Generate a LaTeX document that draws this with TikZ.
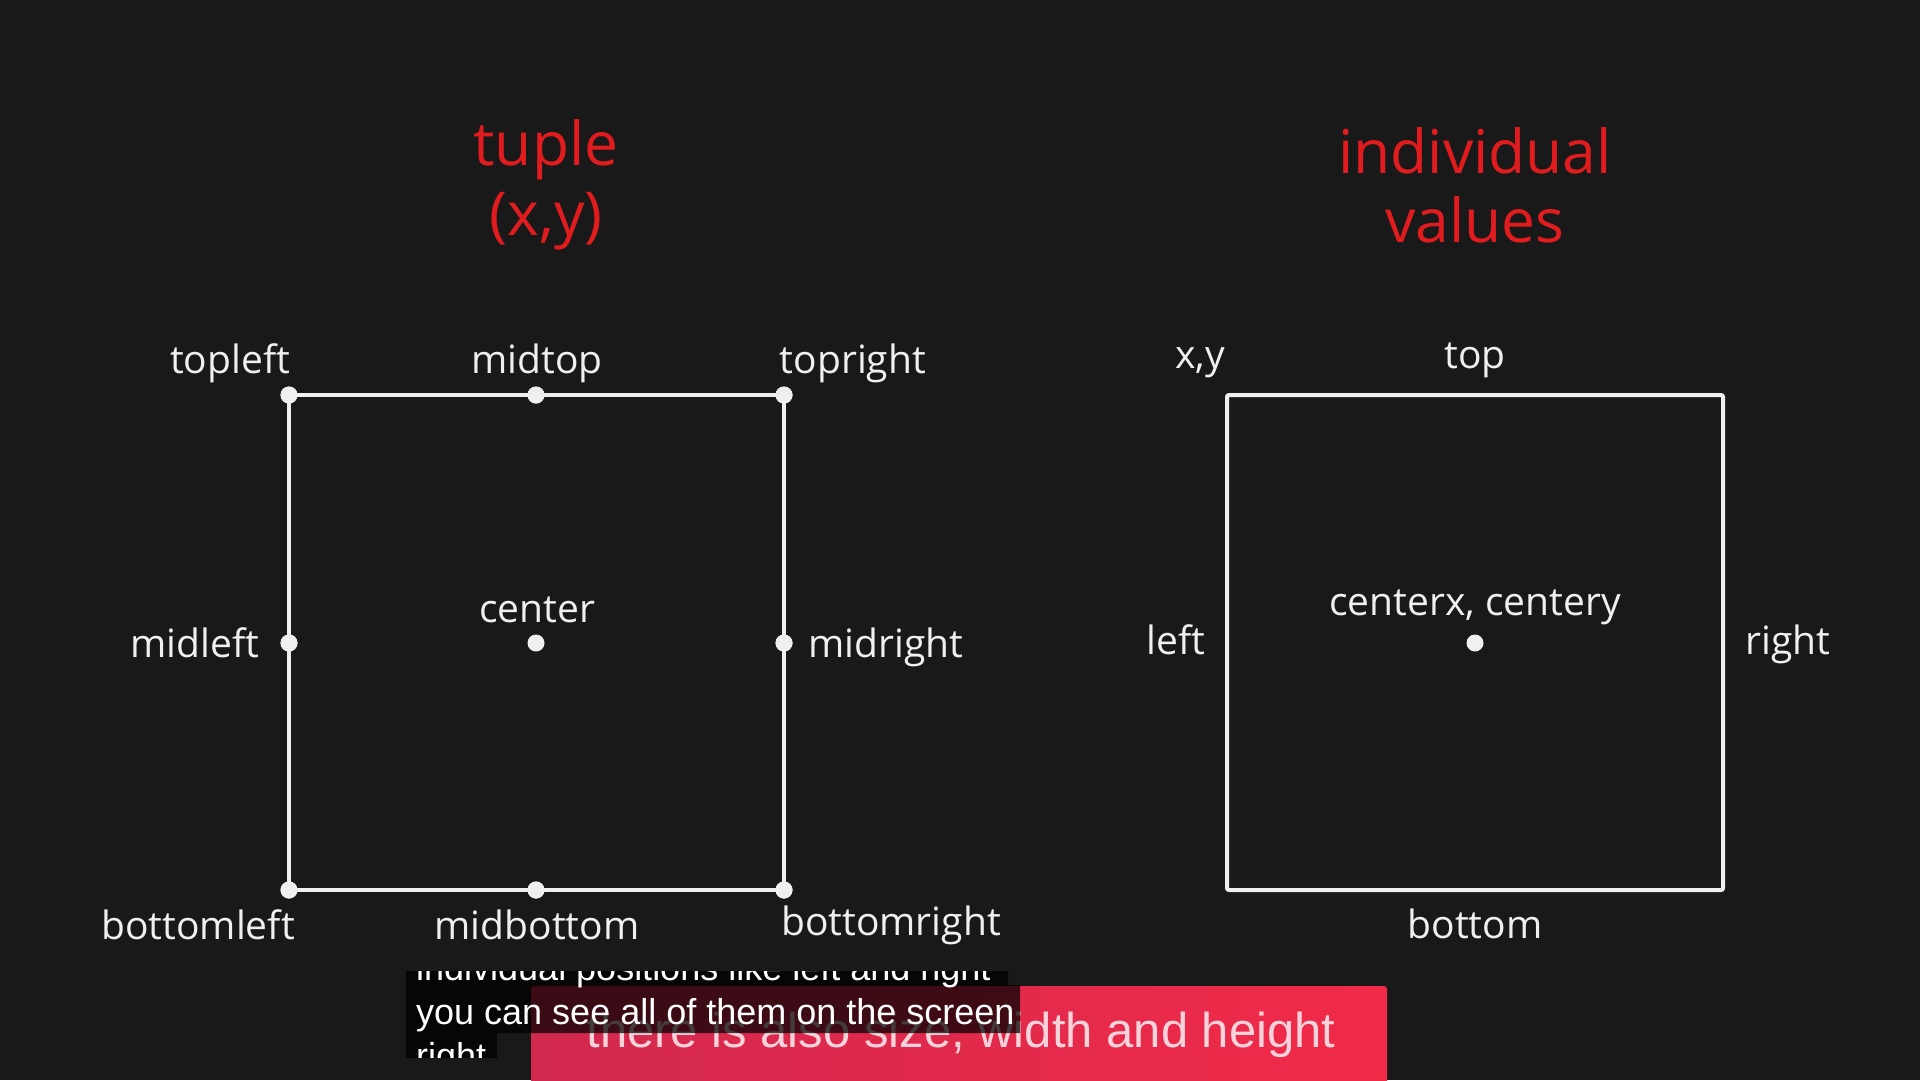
\documentclass[tikz,border=0pt]{standalone}
\usepackage{fontspec}
\setmainfont{Open Sans}
\newfontfamily\subfont{Liberation Sans}
\definecolor{bg}{HTML}{191919}
\definecolor{titlered}{HTML}{E01C1E}
\definecolor{fg}{HTML}{F0F0F0}
\definecolor{redL}{HTML}{D2294F}
\definecolor{redR}{HTML}{F12A48}
\definecolor{pinktext}{HTML}{F6D2DA}
\tikzset{
  boxline/.style={draw=fg, line width=4pt},
  dot/.style={circle, fill=fg, inner sep=0pt, minimum size=17pt},
  lbl/.style={text=fg, anchor=base, inner sep=0pt, font=\fontsize{39}{46}\selectfont},
  ttl/.style={text=titlered, anchor=base, inner sep=0pt, font=\fontsize{60.5}{70}\selectfont},
  subw/.style={text=white, anchor=base west, inner sep=0pt, font=\subfont\fontsize{36}{42}\selectfont},
}
\begin{document}
\begin{tikzpicture}[x=1pt,y=-1pt]
\useasboundingbox (0,0) rectangle (1920,1080);
\fill[bg] (0,0) rectangle (1920,1080);

% titles
\node[ttl] (t1) at (546,165) {tuple};
\node[ttl] (t2) at (546,235) {(x,y)};
\node[ttl] (t3) at (1475,173) {individual};
\node[ttl] (t4) at (1475,242) {values};

% left box
\node[dot] (tl) at (289,395) {};
\node[dot] (mt) at (536,395) {};
\node[dot] (tr) at (784,395) {};
\node[dot] (ml) at (289,643) {};
\node[dot] (cc) at (536,643) {};
\node[dot] (mr) at (784,643) {};
\node[dot] (bl) at (289,890) {};
\node[dot] (mb) at (536,890) {};
\node[dot] (brr) at (784,890) {};
\draw[boxline] (tl.center) -- (tr.center) -- (brr.center) -- (bl.center) -- cycle;
\node[dot] at (tl) {};
\node[dot] at (mt) {};
\node[dot] at (tr) {};
\node[dot] at (ml) {};
\node[dot] at (mr) {};
\node[dot] at (bl) {};
\node[dot] at (mb) {};
\node[dot] at (brr) {};

\node[lbl] (ltl) at (230,373) {topleft};
\node[lbl] (lmt) at (537,373) {midtop};
\node[lbl] (ltr) at (853,373) {topright};
\node[lbl] (lml) at (195,657) {midleft};
\node[lbl] (lcc) at (537,622) {center};
\node[lbl] (lmr) at (886,657) {midright};
\node[lbl] (lbl) at (198,939) {bottomleft};
\node[lbl] (lmb) at (537,939) {midbottom};
\node[lbl] (lbr) at (891,935) {bottomright};

% right box
\coordinate (rtl) at (1227,395);
\coordinate (rbr) at (1723,890);
\draw[boxline, rounded corners=2pt] (rtl) rectangle (rbr);
\node[dot] (rc) at (1475,643) {};
\node[lbl] (rxy) at (1200,368) {x,y};
\node[lbl] (rtop) at (1475,368) {top};
\node[lbl] (rleft) at (1176,654) {left};
\node[lbl] (rright) at (1788,654) {right};
\node[lbl] (rcc) at (1475,615) {centerx, centery};
\node[lbl] (rbot) at (1475,938) {bottom};

% subtitle bar
\shade[left color=redL, right color=redR, rounded corners=3pt] (531,986) rectangle (1387,1095);
\node[text=pinktext, anchor=base, inner sep=0pt, font=\subfont\fontsize{49}{58}\selectfont] (sub) at (961,1047) {there is also size, width and height};

\begin{scope}
\clip (0,971) rectangle (1920,1057);
\fill[black, opacity=0.72] (406,940) rectangle (1008,985) (406,985) rectangle (1020,1033) (406,1033) rectangle (497,1080);
\node[subw] (s1) at (416,980) {individual positions like left and right};
\node[subw] (s2) at (416,1024) {you can see all of them on the screen};
\node[subw] (s3) at (416,1068) {right};
\end{scope}
\end{tikzpicture}
\end{document}
